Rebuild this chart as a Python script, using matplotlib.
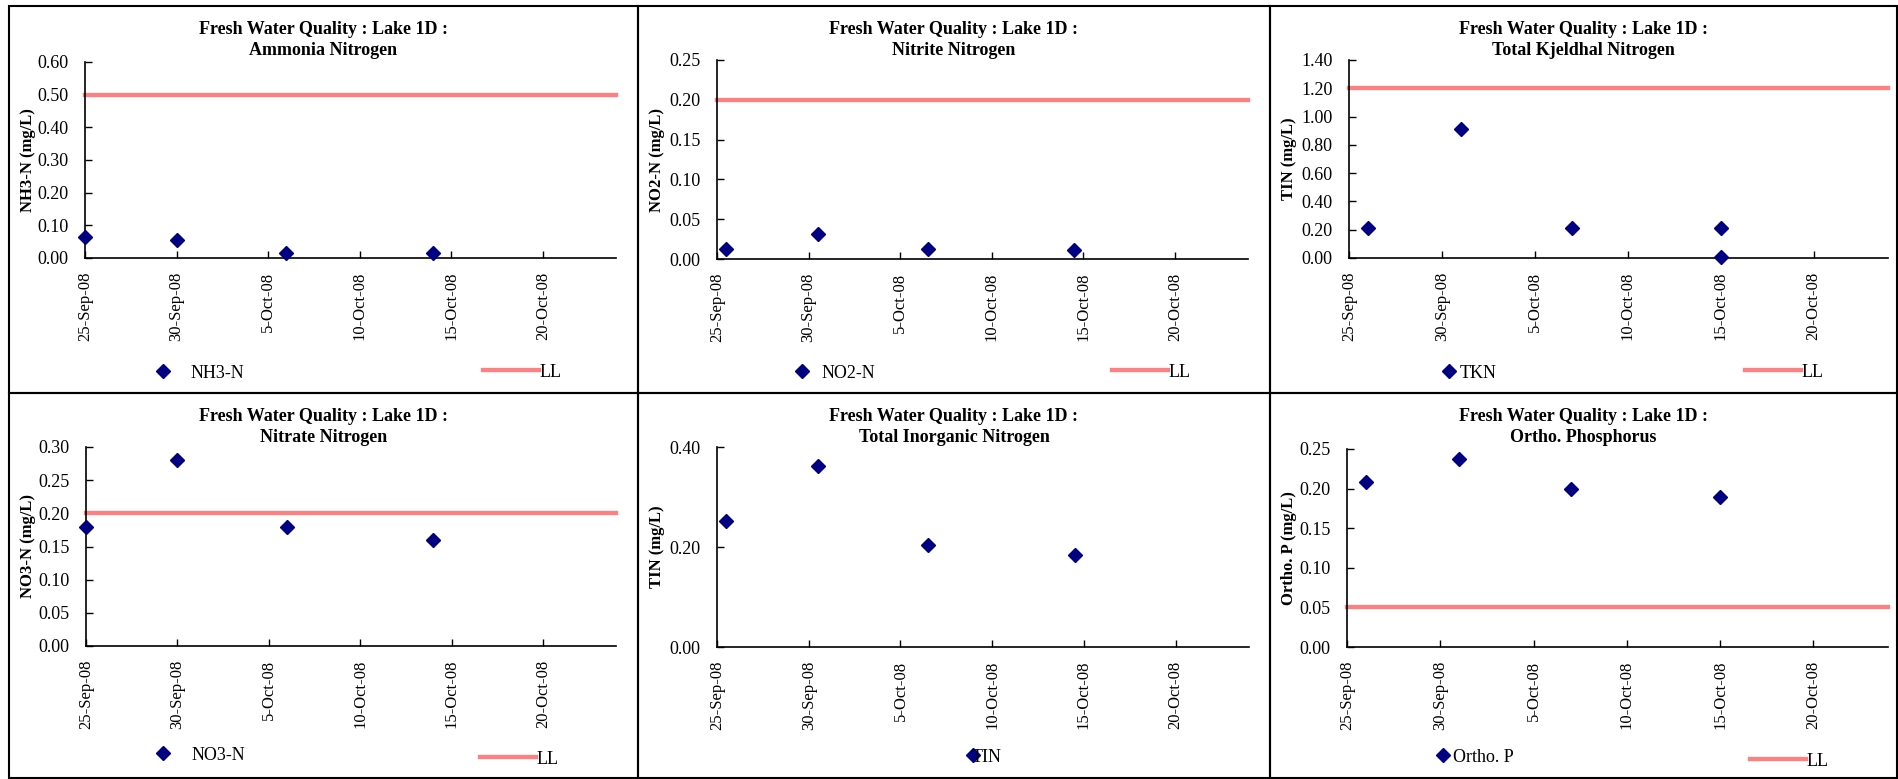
import matplotlib
matplotlib.use("Agg")
import matplotlib.pyplot as plt
import matplotlib.dates as mdates
from matplotlib.patches import Rectangle
from matplotlib.ticker import FuncFormatter, MultipleLocator

plt.rcParams["font.family"] = ["Liberation Serif", "DejaVu Serif"]

W, H = 1899, 779

# ---- data ----
nh3_dates = ["2008-09-25", "2008-09-30", "2008-10-06", "2008-10-14"]
nh3_vals = [0.065, 0.055, 0.015, 0.015]
nh3_ll = 0.50

no2_dates = ["2008-09-25 12:00", "2008-09-30 12:00", "2008-10-06 12:00", "2008-10-14 12:00"]
no2_vals = [0.012, 0.031, 0.012, 0.011]
no2_ll = 0.20

tkn_dates = ["2008-09-26", "2008-10-01", "2008-10-07", "2008-10-15", "2008-10-15"]
tkn_vals = [0.21, 0.91, 0.21, 0.21, 0.01]
tkn_ll = 1.20

no3_dates = ["2008-09-25", "2008-09-30", "2008-10-06", "2008-10-14"]
no3_vals = [0.18, 0.28, 0.18, 0.16]
no3_ll = 0.20

tin_dates = ["2008-09-25 12:00", "2008-09-30 12:00", "2008-10-06 12:00", "2008-10-14 12:00"]
tin_vals = [0.253, 0.363, 0.204, 0.184]

op_dates = ["2008-09-26", "2008-10-01", "2008-10-07", "2008-10-15"]
op_vals = [0.208, 0.238, 0.199, 0.189]
op_ll = 0.05

x_start, x_end = "2008-09-25", "2008-10-24"

panels = [
    # subtitle, ylabel, series name, dates, values, LL, ymax, ystep
    ("Ammonia Nitrogen", "NH3-N (mg/L)", "NH3-N", nh3_dates, nh3_vals, nh3_ll, 0.60, 0.10),
    ("Nitrite Nitrogen", "NO2-N (mg/L)", "NO2-N", no2_dates, no2_vals, no2_ll, 0.25, 0.05),
    ("Total Kjeldhal Nitrogen", "TIN (mg/L)", "TKN", tkn_dates, tkn_vals, tkn_ll, 1.40, 0.20),
    ("Nitrate Nitrogen", "NO3-N (mg/L)", "NO3-N", no3_dates, no3_vals, no3_ll, 0.30, 0.05),
    ("Total Inorganic Nitrogen", "TIN (mg/L)", "TIN", tin_dates, tin_vals, None, 0.40, 0.20),
    ("Ortho. Phosphorus", "Ortho. P (mg/L)", "Ortho. P", op_dates, op_vals, op_ll, 0.25, 0.05),
]

# layout in pixels: axes (left, right, top, bottom)
axes_px = [
    (85, 616, 62, 258), (717, 1248, 60, 259), (1349, 1888, 60, 258),
    (86, 616, 447, 646), (717, 1249, 447, 647), (1347, 1888, 449, 647),
]
col_edges = [9, 638, 1270, 1897]
row_edges = [6, 393, 778]
# legend positions: (marker x, marker y, text gap, LL line x0, LL y)
legend_px = [
    (163, 373, 1.0, 483, 372), (802, 373, 0.6, 1112, 372),
    (1449, 373, 0.1, 1745, 372), (163, 755, 1.1, 480, 759),
    (973, 757, -0.55, None, None), (1443, 757, 0.05, 1750, 761),
]

NAVY = "#000080"
PINK = "#FF8080"
FS = 13


def fx(x):
    return x / W


def fy(y):
    return 1 - y / H


def date_fmt(v, pos=None):
    d = mdates.num2date(v)
    return f"{d.day}-{d.strftime('%b-%y')}"


fig = plt.figure(figsize=(W / 100, H / 100), dpi=100)

for i, (sub, ylab, name, dates, vals, ll, ymax, ystep) in enumerate(panels):
    l, r, t, b = axes_px[i]
    ax = fig.add_axes([fx(l), fy(b), (r - l) / W, (b - t) / H])
    xd = mdates.datestr2num(dates)
    x0, x1 = mdates.datestr2num(x_start), mdates.datestr2num(x_end)

    pts, = ax.plot(xd, vals, linestyle="none", marker="D", color=NAVY,
                   markersize=7.3, clip_on=False, zorder=3, label=name)
    ll_line = None
    if ll is not None:
        ll_line, = ax.plot([x0, x1], [ll, ll], color=PINK, lw=3.1,
                           solid_capstyle="projecting", clip_on=False,
                           zorder=2, label="LL")

    ax.set_xlim(x0, x1)
    ax.set_ylim(0, ymax)
    ax.xaxis.set_major_locator(mdates.DayLocator(bymonthday=[5, 10, 15, 20, 25, 30]))
    ax.xaxis.set_major_formatter(FuncFormatter(date_fmt))
    ax.yaxis.set_major_locator(MultipleLocator(ystep))
    ax.yaxis.set_major_formatter(FuncFormatter(lambda v, p: f"{v:.2f}"))
    ax.tick_params(axis="x", direction="in", length=5, width=1, pad=10,
                   labelsize=12, labelrotation=90)
    ax.tick_params(axis="y", direction="in", length=5, width=1, pad=12,
                   labelsize=FS)
    for s in ("top", "right"):
        ax.spines[s].set_visible(False)
    for s in ("left", "bottom"):
        ax.spines[s].set_linewidth(1.2)
    ax.set_ylabel(ylab, fontsize=12, fontweight="bold")
    ax.yaxis.set_label_coords(-(l - (col_edges[i % 3] + 27)) / (r - l), 0.5)

    # title centred on panel
    cx = (col_edges[i % 3] + col_edges[i % 3 + 1]) / 2
    ty = row_edges[i // 3] + 15
    fig.text(fx(cx), fy(ty), "Fresh Water Quality : Lake 1D :\n" + sub,
             ha="center", va="top", fontsize=FS, fontweight="bold",
             linespacing=1.3)

    # legends
    mx, my, pad, lx, lyy = legend_px[i]
    hl = 1.0
    leg1 = ax.legend(handles=[pts], loc="center left",
                     bbox_to_anchor=(fx(mx - hl * FS * 1.389 / 2), fy(my)),
                     bbox_transform=fig.transFigure, frameon=False,
                     fontsize=FS, handlelength=hl, handletextpad=pad,
                     borderpad=0, borderaxespad=0)
    if ll_line is not None:
        ax.add_artist(leg1)
        ax.legend(handles=[ll_line], loc="center left",
                  bbox_to_anchor=(fx(lx), fy(lyy)),
                  bbox_transform=fig.transFigure, frameon=False,
                  fontsize=FS, handlelength=3.1, handletextpad=0.05,
                  borderpad=0, borderaxespad=0)

# panel borders
for ri in range(2):
    for ci in range(3):
        x0p, x1p = col_edges[ci], col_edges[ci + 1]
        y0p, y1p = row_edges[ri], row_edges[ri + 1]
        fig.add_artist(Rectangle((fx(x0p), fy(y1p)), (x1p - x0p) / W,
                                 (y1p - y0p) / H, transform=fig.transFigure,
                                 fill=False, edgecolor="black", lw=1.5))

fig.savefig("out.png", dpi=100)
